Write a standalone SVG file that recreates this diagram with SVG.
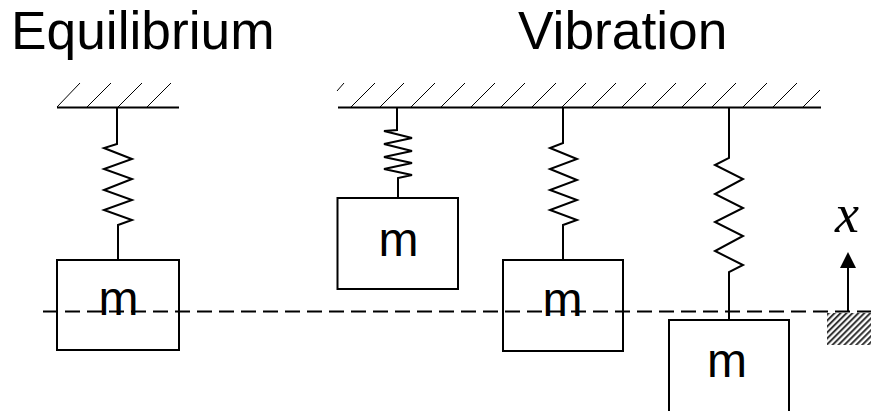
<svg xmlns="http://www.w3.org/2000/svg" width="871" height="411" viewBox="0 0 871 411">
<style>
.t{font-family:"Liberation Sans",Arial,sans-serif;fill:#000}
.title{font-size:53.300px}
.m{font-size:48px;text-anchor:middle}
.box{fill:none;stroke:#000;stroke-width:2}
.spring{fill:none;stroke:#000;stroke-width:2}
.ceil{fill:none;stroke:#000;stroke-width:2}
.hatch{fill:none;stroke:#000;stroke-width:1}
.dash{stroke:#000;stroke-width:2;stroke-dasharray:15 7}
</style>
<defs>
<pattern id="h" width="4.200" height="4.200" patternUnits="userSpaceOnUse" patternTransform="rotate(-45)">
<rect width="4.200" height="4.200" fill="#fff"/><rect width="4.200" height="2" fill="#333"/>
</pattern>
</defs>
<rect width="871" height="411" fill="#fff"/>
<text class="t title" x="11" y="48.500">Equilibrium</text>
<text class="t title" x="518" y="48.500">Vibration</text>
<g id="ceiling-left">
<path class="hatch" d="M57 107L80 83M87 107L111 83M118 107L142 83M147 107L171 83"/>
<path class="ceil" d="M57 107.500H179"/>
</g>
<g id="ceiling-right">
<path class="hatch" d="M337 91L344 83M351 107L375 83M380 107L404 83M411 107L435 83M441 107L465 83M471 107L495 83M501 107L525 83M532 107L556 83M562 107L586 83M592 107L616 83M622 107L646 83M652 107L676 83M682 107L706 83M712 107L736 83M743 107L767 83M773 107L797 83M803 107L820 90"/>
<path class="ceil" d="M338 107.500H821"/>
</g>
<g id="connectors">
<path class="spring" d="M117 108V144L104 148L132 159L104 169L132 179L104 190L132 200L104 210L132 220L118 225V260"/>
<path class="spring" d="M397 108V130L384 131L412 138L384 144L412 151L384 157L412 163L384 169L412 175L398 178V198"/>
<path class="spring" d="M563 108V143L550 148L577 159L550 169L577 180L550 190L577 200L550 210L577 220L563 225V260"/>
<path class="spring" d="M729 108V158L715 165L743 179L715 194L743 208L715 222L743 236L715 251L743 265L729 272V320"/>
<path class="spring" d="M848 311V266"/>
<path d="M848 252L856 268H840Z" fill="#000"/>
</g>
<g id="mass-1"><rect class="box" x="57" y="260" width="122" height="90"/><text class="t m" x="118.500" y="315">m</text></g>
<g id="mass-2"><rect class="box" x="337.500" y="198" width="120.500" height="91"/><text class="t m" x="398.500" y="256">m</text></g>
<g id="mass-3"><rect class="box" x="503" y="260" width="120" height="91"/><text class="t m" x="562.500" y="315.500">m</text></g>
<g id="mass-4"><rect class="box" x="669" y="320" width="120" height="110"/><text class="t m" x="727" y="377">m</text></g>
<line id="datum" class="dash" x1="43" y1="311.500" x2="871" y2="311.500"/>
<g id="ground"><rect x="827" y="313" width="44" height="32" fill="url(#h)"/></g>
<text x="835" y="232" font-family="Liberation Serif,Times New Roman,serif" font-style="italic" font-size="54" fill="#000">x</text>
</svg>
